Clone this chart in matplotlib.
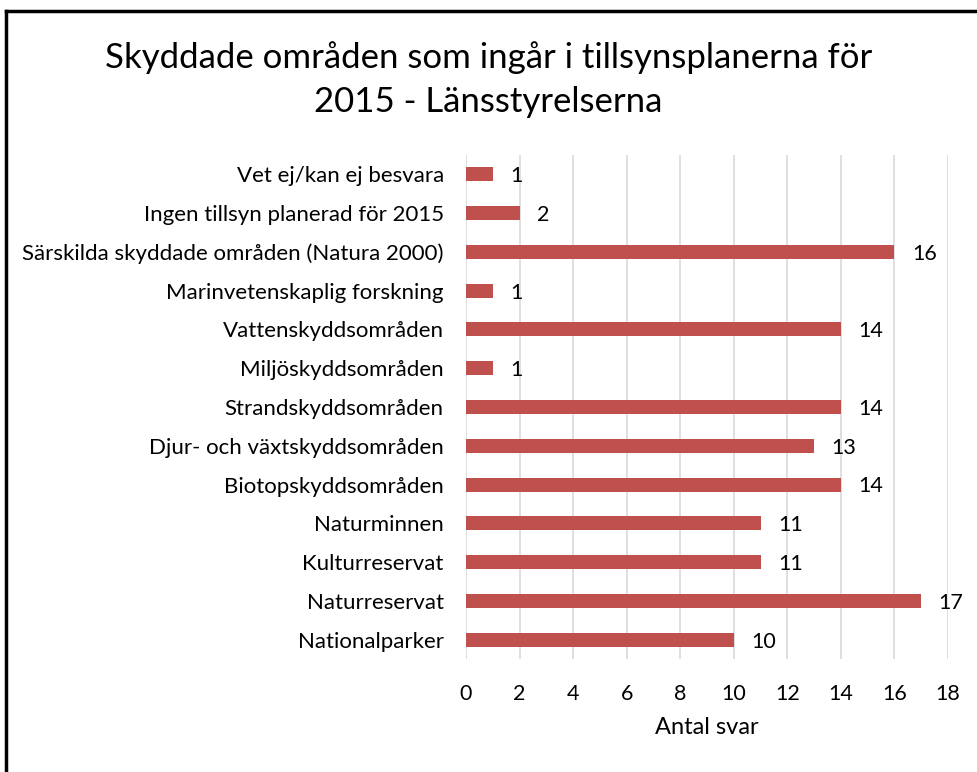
import matplotlib.pyplot as plt
from matplotlib.lines import Line2D

categories = [
    "Nationalparker",
    "Naturreservat",
    "Kulturreservat",
    "Naturminnen",
    "Biotopskyddsområden",
    "Djur- och växtskyddsområden",
    "Strandskyddsområden",
    "Miljöskyddsområden",
    "Vattenskyddsområden",
    "Marinvetenskaplig forskning",
    "Särskilda skyddade områden (Natura 2000)",
    "Ingen tillsyn planerad för 2015",
    "Vet ej/kan ej besvara",
]
antal = [10, 17, 11, 11, 14, 13, 14, 1, 14, 1, 16, 2, 1]
xticks = list(range(0, 19, 2))

plt.rcParams['font.family'] = ['Lato', 'DejaVu Sans']

W, H = 977, 772
fig = plt.figure(figsize=(W / 100, H / 100), dpi=100)

# chart frame: only the top and left edges are on the canvas
fx, fy = 6 / W, 1 - 11 / H
fig.add_artist(Line2D([fx, fx], [-0.1, fy], transform=fig.transFigure,
                      color='black', linewidth=2.5, solid_capstyle='projecting'))
fig.add_artist(Line2D([fx, 1.1], [fy, fy], transform=fig.transFigure,
                      color='black', linewidth=2.5, solid_capstyle='projecting'))

ax = fig.add_axes([466 / W, 1 - 659 / H, (948 - 466) / W, (659 - 155) / H])
ax.barh(range(len(categories)), antal, height=0.36, color='#C0504D', zorder=3)
for i, v in enumerate(antal):
    ax.text(v + 0.65, i - 0.05, str(v), va='center', ha='left', fontsize=15.5)

ax.set_xlim(0, 18)
ax.set_ylim(-0.5, len(categories) - 0.5)
ax.set_xticks(xticks)
ax.set_yticks(range(len(categories)))
ax.set_yticklabels(categories, fontsize=16)
ax.tick_params(axis='both', length=0)
ax.tick_params(axis='x', labelsize=15.5, pad=18)
ax.tick_params(axis='y', pad=16)
ax.grid(axis='x', color='#D9D9D9', linewidth=1.2, zorder=0)
for s in ax.spines.values():
    s.set_visible(False)
ax.set_xlabel('Antal svar', fontsize=17, labelpad=9)

fig.text(0.5, 1 - 58 / H, 'Skyddade områden som ingår i tillsynsplanerna för',
         ha='center', va='center', fontsize=25)
fig.text(0.5, 1 - 102 / H, '2015 - Länsstyrelserna',
         ha='center', va='center', fontsize=25)

fig.savefig('out.png', dpi=100)
